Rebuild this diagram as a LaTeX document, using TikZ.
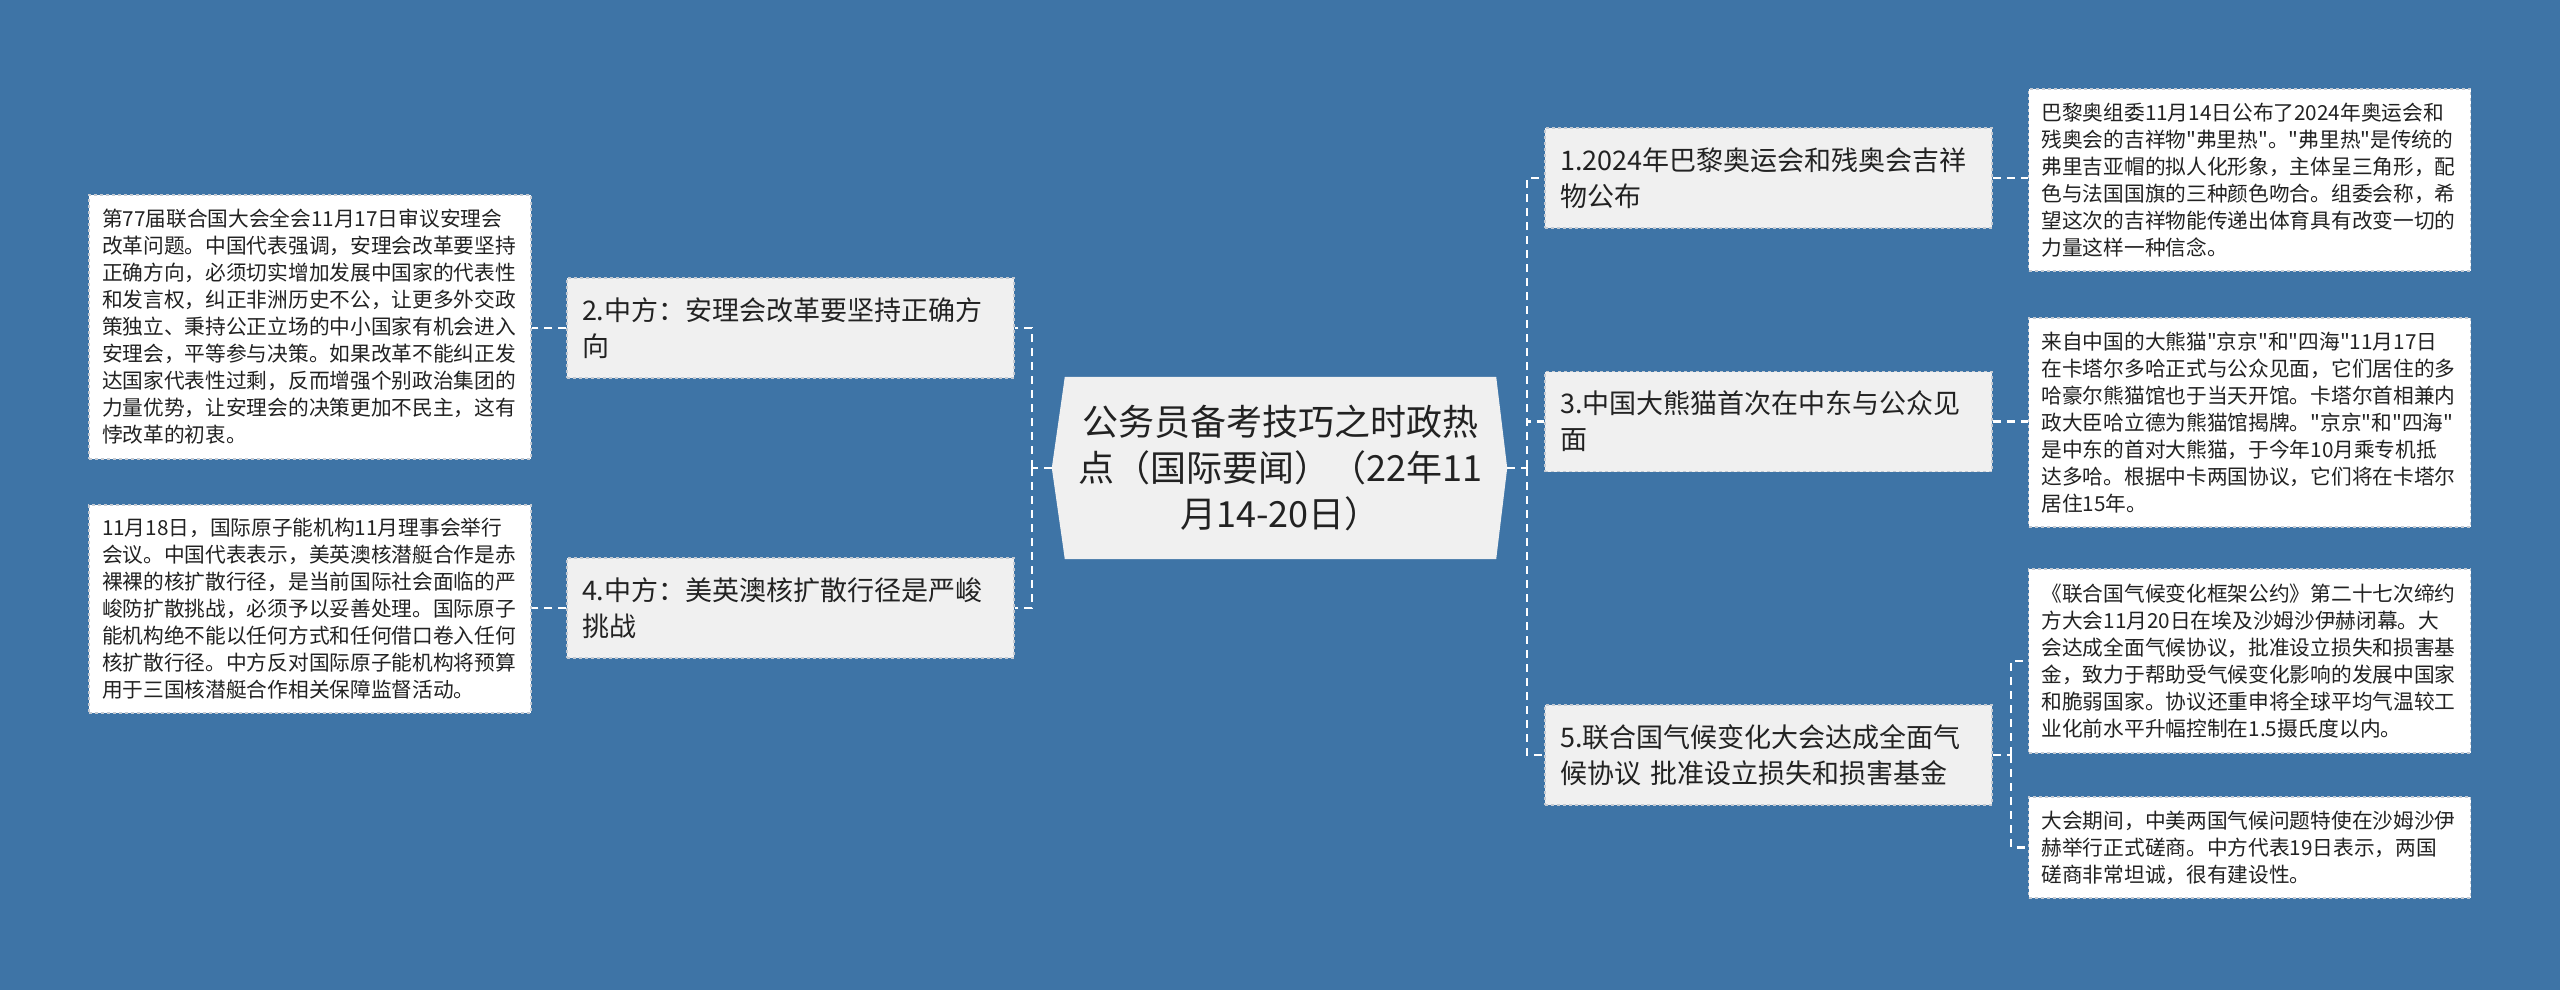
\documentclass[tikz,border=0pt]{standalone}
\usepackage{fontspec}
\newfontfamily\cjk{Noto Sans CJK SC}
\usetikzlibrary{backgrounds}
\definecolor{bgblue}{RGB}{62,116,166}
\definecolor{nodegray}{RGB}{240,240,240}
\definecolor{bordergray}{RGB}{196,202,210}
\definecolor{txt}{RGB}{34,34,34}
\begin{document}
\begin{tikzpicture}[x=1pt,y=-1pt,
  lvone/.style={fill=nodegray, draw=bordergray, dashed, line width=1.5pt,
    minimum width=447pt, minimum height=100pt, text width=417pt, inner xsep=15pt, inner ysep=0pt,
    align=left, text=txt, font=\cjk\fontsize{27}{36}\selectfont},
  leaf/.style={fill=white, draw=bordergray, dashed, line width=1.5pt,
    minimum width=442pt, text width=416pt, inner xsep=13pt, inner ysep=0pt,
    align=left, text=txt, font=\cjk\fontsize{20.7}{27}\selectfont},
  centre/.style={minimum width=431pt, minimum height=182pt, text width=420pt, inner xsep=5.5pt, inner ysep=0pt,
    align=center, text=txt, font=\cjk\fontsize{36}{46}\selectfont},
  conn/.style={draw=white, line width=2.5pt, dash pattern=on 8pt off 6pt}
]
\useasboundingbox (0,0) rectangle (2560,990);

% central node
\node[centre] (c) at (1280.5,468) {公务员备考技巧之时政热\\点（国际要闻）（22年11\\月14-20日）};

% level-1 nodes
\node[lvone] (n1) at (1768.5,178) {1.2024年巴黎奥运会和残奥会吉祥\\物公布};
\node[lvone] (n3) at (1768.5,421.5) {3.中国大熊猫首次在中东与公众见\\面};
\node[lvone] (n5) at (1768.5,755) {5.联合国气候变化大会达成全面气\\候协议 批准设立损失和损害基金};
\node[lvone] (n2) at (790.5,328) {2.中方：安理会改革要坚持正确方\\向};
\node[lvone] (n4) at (790.5,608) {4.中方：美英澳核扩散行径是严峻\\挑战};

% leaves
\node[leaf, minimum height=264pt] (l2) at (310,327) {第77届联合国大会全会11月17日审议安理会\\改革问题。中国代表强调，安理会改革要坚持\\正确方向，必须切实增加发展中国家的代表性\\和发言权，纠正非洲历史不公，让更多外交政\\策独立、秉持公正立场的中小国家有机会进入\\安理会，平等参与决策。如果改革不能纠正发\\达国家代表性过剩，反而增强个别政治集团的\\力量优势，让安理会的决策更加不民主，这有\\悖改革的初衷。};
\node[leaf, minimum height=208pt] (l4) at (310,609) {11月18日，国际原子能机构11月理事会举行\\会议。中国代表表示，美英澳核潜艇合作是赤\\裸裸的核扩散行径，是当前国际社会面临的严\\峻防扩散挑战，必须予以妥善处理。国际原子\\能机构绝不能以任何方式和任何借口卷入任何\\核扩散行径。中方反对国际原子能机构将预算\\用于三国核潜艇合作相关保障监督活动。};
\node[leaf, minimum height=182pt] (l1) at (2249.5,180) {巴黎奥组委11月14日公布了2024年奥运会和\\残奥会的吉祥物"弗里热"。"弗里热"是传统的\\弗里吉亚帽的拟人化形象，主体呈三角形，配\\色与法国国旗的三种颜色吻合。组委会称，希\\望这次的吉祥物能传递出体育具有改变一切的\\力量这样一种信念。};
\node[leaf, minimum height=209pt] (l3) at (2249.5,422.5) {来自中国的大熊猫"京京"和"四海"11月17日\\在卡塔尔多哈正式与公众见面，它们居住的多\\哈豪尔熊猫馆也于当天开馆。卡塔尔首相兼内\\政大臣哈立德为熊猫馆揭牌。"京京"和"四海"\\是中东的首对大熊猫，于今年10月乘专机抵\\达多哈。根据中卡两国协议，它们将在卡塔尔\\居住15年。};
\node[leaf, minimum height=184pt] (l5a) at (2249.5,661) {《联合国气候变化框架公约》第二十七次缔约\\方大会11月20日在埃及沙姆沙伊赫闭幕。大\\会达成全面气候协议，批准设立损失和损害基\\金，致力于帮助受气候变化影响的发展中国家\\和脆弱国家。协议还重申将全球平均气温较工\\业化前水平升幅控制在1.5摄氏度以内。};
\node[leaf, minimum height=101pt] (l5b) at (2249.5,847.5) {大会期间，中美两国气候问题特使在沙姆沙伊\\赫举行正式磋商。中方代表19日表示，两国\\磋商非常坦诚，很有建设性。};

\coordinate (lj) at (1032,468);
\coordinate (rj) at (1527,468);
\coordinate (r5) at (2011,755);

\begin{pgfonlayer}{background}
  \fill[bgblue] (0,0) rectangle (2560,990);
  \fill[nodegray] (c.north west) -- (c.north east) -- ([xshift=11pt]c.east) -- (c.south east)
    -- (c.south west) -- ([xshift=-13pt]c.west) -- cycle;
  % left side
  \draw[conn] ([xshift=-13pt]c.west) -- (lj);
  \draw[conn] (lj) |- (n2.east);
  \draw[conn] (lj) |- (n4.east);
  \draw[conn] (n2.west) -- (n2.west -| l2.east);
  \draw[conn] (n4.west) -- (n4.west -| l4.east);
  % right side
  \draw[conn] ([xshift=11pt]c.east) -- (rj);
  \draw[conn] (rj) |- (n1.west);
  \draw[conn] (rj) |- (n3.west);
  \draw[conn] (rj) |- (n5.west);
  \draw[conn] (n1.east) -- (n1.east -| l1.west);
  \draw[conn] (n3.east) -- (n3.east -| l3.west);
  \draw[conn] (n5.east) -- (r5);
  \draw[conn] (r5) |- (l5a.west);
  \draw[conn] (r5) |- (l5b.west);
\end{pgfonlayer}
\end{tikzpicture}
\end{document}
